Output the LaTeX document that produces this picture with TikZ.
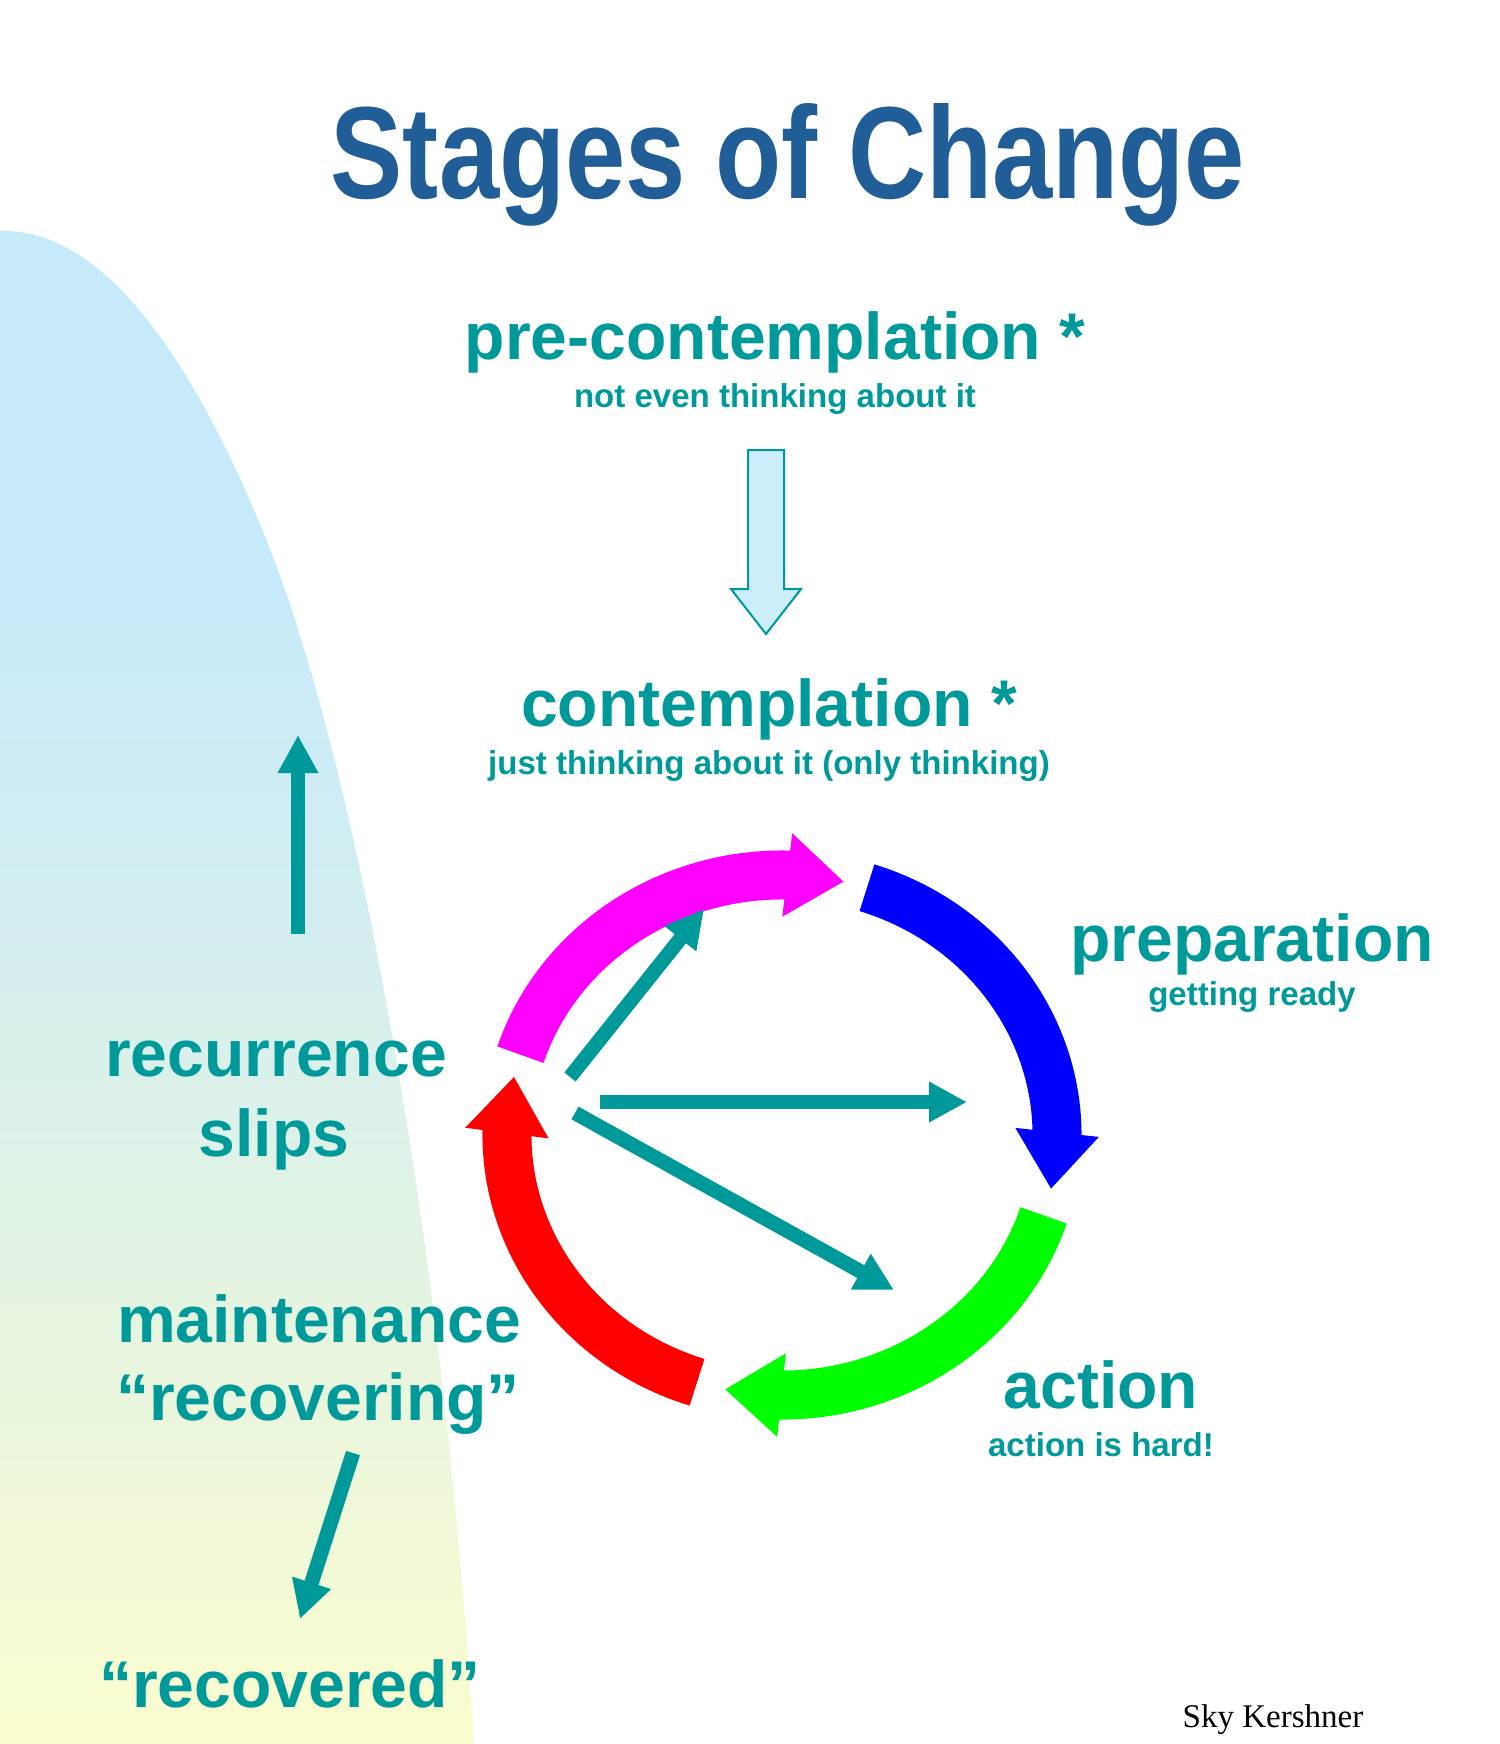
\documentclass[tikz,border=0pt]{standalone}
\usepackage{fontspec}
\setsansfont{Liberation Sans}
\setmainfont{Liberation Serif}
\usepackage{graphicx}
\usepackage{tikz}
\usetikzlibrary{arrows.meta,bending,positioning}
\definecolor{tl}{RGB}{0,153,153}
\definecolor{ttl}{RGB}{33,94,152}
\definecolor{sky}{RGB}{198,234,250}
\definecolor{mid}{RGB}{214,239,238}
\definecolor{lem}{RGB}{250,252,206}
\definecolor{pale}{RGB}{204,238,250}
\definecolor{grn}{RGB}{0,255,0}
\definecolor{blu}{RGB}{0,0,255}
\definecolor{mag}{RGB}{255,0,255}
\definecolor{rd}{RGB}{255,0,0}
\pgfdeclareverticalshading{hill}{100bp}{color(0bp)=(lem); color(25bp)=(lem); color(50bp)=(mid); color(63bp)=(sky); color(100bp)=(sky)}

\begin{document}
\begin{tikzpicture}[x=0.1mm,y=-0.1mm,
	big/.style={inner sep=0, anchor=base, text=tl, font=\sffamily\bfseries\fontsize{18.8}{22}\selectfont},
	sml/.style={inner sep=0, anchor=base, text=tl, font=\sffamily\bfseries\fontsize{9.4}{11}\selectfont},
	cyc/.style={line width=4.9mm, -{Triangle[length=5.7mm,width=8mm,flex]}},
	tar/.style={draw=tl, line width=1.45mm, -{Triangle[length=3.8mm,width=3.8mm]}}]
	\useasboundingbox (0,0) rectangle (1500,1744);
	\fill[white] (0,0) rectangle (1500,1744);
	% hill on the left
	\shade[shading=hill] (0,231) .. controls (100,228) and (190,350) .. (268,544)
		.. controls (350,750) and (440,1200) .. (474,1744) -- (0,1744) -- cycle;

	\node [inner sep=0, anchor=base, text=ttl, font=\sffamily\bfseries\fontsize{37.3}{40}\selectfont] (ttl) at (788,198) {\scalebox{0.826}[1]{Stages of Change}};
	\node [big] (pre) at (775,359) {pre-contemplation *};
	\node [sml] (pre2) at (775,407) {not even thinking about it};
	\node [big] (con) at (769,726) {contemplation *};
	\node [sml] (con2) at (769,774) {just thinking about it (only thinking)};
	\node [big] (prep) at (1252,961) {preparation};
	\node [sml] (prep2) at (1252,1005) {getting ready};
	\node [big] (act) at (1101,1408) {action};
	\node [sml] (act2) at (1101,1456) {action is hard!};
	\node [big] (rec) at (276,1076) {recurrence};
	\node [big] (slp) at (274,1156) {slips};
	\node [big] (mnt) at (319,1342) {maintenance};
	\node [big] (rcv) at (318,1420) {“recovering”};
	\node [big] (rcd) at (290,1707) {“recovered”};
	\node [inner sep=0, anchor=base, font=\rmfamily\fontsize{9.4}{11}\selectfont] (sky) at (1273,1727) {Sky Kershner};

	% hollow arrow
	\draw [tl, fill=pale, line width=0.2mm] (748,450)--(784,450)--(784,589)--(801,589)--(766,634)--(731,589)--(748,589)--cycle;

	% the cycle
	\coordinate (c) at (782,1135);
	\draw [cyc, mag] (c) ++(-162:275 and 260) arc [start angle=-162, end angle=-77, x radius=275, y radius=260];
	\draw [cyc, blu] (c) ++(-72:275 and 260) arc [start angle=-72, end angle=12, x radius=275, y radius=260];
	\draw [cyc, grn] (c) ++(18:275 and 260) arc [start angle=18, end angle=102, x radius=275, y radius=260];
	\draw [cyc, rd] (c) ++(108:275 and 260) arc [start angle=108, end angle=193, x radius=275, y radius=260];

	\coordinate (a1) at (570,1077);
	\coordinate (b1) at (704,909);
	\coordinate (a2) at (600,1102);
	\coordinate (b2) at (967,1102);
	\coordinate (a3) at (575,1113);
	\coordinate (b3) at (894,1290);
	\draw [tar] (a1)--(b1);
	\draw [tar] (a2)--(b2);
	\draw [tar] (a3)--(b3);

	\coordinate (u1) at (298,934);
	\coordinate (u2) at (298,735);
	\coordinate (d1) at (353,1453);
	\coordinate (d2) at (300,1619);
	\draw [tar] (u1)--(u2);
	\draw [tar] (d1)--(d2);
\end{tikzpicture}
\end{document}
